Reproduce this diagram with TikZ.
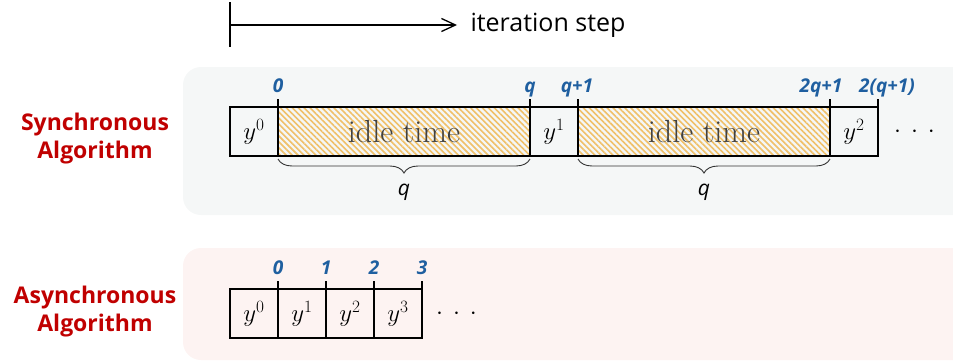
\documentclass[tikz,border=0pt]{standalone}
\usepackage{fontspec}
\setsansfont{Open Sans}
\usepackage{tikz}
\usetikzlibrary{positioning, patterns.meta, decorations.pathreplacing, arrows.meta}
\usepackage{xcolor}

\definecolor{syncbg}{RGB}{245,247,247}
\definecolor{asyncbg}{RGB}{253,243,242}
\definecolor{algred}{RGB}{192,0,0}
\definecolor{stepblue}{RGB}{31,95,160}
\definecolor{hatch}{RGB}{240,192,105}

\begin{document}
\begin{tikzpicture}[x=1pt, y=1pt,
		cell/.style={draw, line width=1.3pt, minimum height=49pt, minimum width=48pt,
			inner sep=0pt, outer sep=0pt, font=\fontsize{24}{24}\selectfont},
		idle/.style={cell, minimum width=252pt,
			pattern={Lines[angle=-45, distance=4.2pt, line width=1.6pt]}, pattern color=hatch,
			text=black!75, font=\fontsize{32}{32}\selectfont},
		step label/.style={above, inner sep=1.5pt, text height=14pt, text depth=4.5pt,
			text=stepblue, font=\sffamily\bfseries\itshape\fontsize{19}{19}\selectfont},
		alg/.style={align=center, text=algred, font=\sffamily\bfseries\fontsize{23}{28}\selectfont},
		panel/.style={rounded corners=18pt},
		gap brace/.style={decorate, decoration={brace, mirror, amplitude=14pt, raise=3pt},
			line width=0.9pt, draw=black!80},
		dots/.style={inner sep=0pt, font=\fontsize{30}{30}\selectfont}
	]
	\useasboundingbox (0,0) rectangle (953,-362);
	
	\fill [syncbg, panel] (183,-67) rectangle (990,-215);
	\fill [asyncbg, panel] (183,-248) rectangle (990,-360);
	
	\coordinate (axis top) at (230,-2);
	\coordinate (axis bottom) at (230,-47);
	\coordinate (O) at (230,-25);
	\draw [line width=1.3pt] (axis top) -- (axis bottom);
	\draw [line width=1.3pt, -{Straight Barb[length=14pt, width=13pt]}] (O) -- ++(227,0) coordinate (axis end);
	\node [right=10pt of axis end, font=\sffamily\fontsize{25}{25}\selectfont] (axis label) {iteration step};
	
	\node [alg] (sync label) at (95,-139) {Synchronous\\Algorithm};
	\node [alg] (async label) at (95,-312) {Asynchronous\\Algorithm};
	
	\node [cell, anchor=north west] (s0) at (230,-107) {$y^0$};
	\node [idle, right=0pt of s0] (w0) {idle time};
	\node [cell, right=0pt of w0] (s1) {$y^1$};
	\node [idle, right=0pt of s1] (w1) {idle time};
	\node [cell, right=0pt of w1] (s2) {$y^2$};
	\node [dots, right=16pt of s2] (sync dots) {$\cdot$\hspace{10pt}$\cdot$\hspace{10pt}$\cdot$};
	
	\foreach \n/\t/\s in {s0/0/0, w0/q/0, s1/{q+1}/-1, w1/{2q+1}/-9, s2/{2(q+1)}/9}
	{
		\draw [line width=1.3pt] (\n.north east) -- ++(0,8) node [step label, xshift=\s pt] {\t};
	}
	
	\foreach \n in {w0, w1}
	{
		\draw [gap brace] (\n.south west) -- (\n.south east)
			node [midway, below=26pt, inner sep=2pt, font=\sffamily\itshape\fontsize{21}{21}\selectfont] {q};
	}
	
	\node [cell, anchor=north west] (a0) at (230,-289) {$y^0$};
	\foreach \i [remember=\i as \j (initially 0)] in {1,2,3}
	{
		\node [cell, right=0pt of a\j] (a\i) {$y^{\i}$};
	}
	\node [dots, right=14pt of a3] (async dots) {$\cdot$\hspace{10pt}$\cdot$\hspace{10pt}$\cdot$};
	
	\foreach \i in {0,...,3}
	{
		\draw [line width=1.3pt] (a\i.north east) -- ++(0,8) node [step label] {\i};
	}
	
\end{tikzpicture}
\end{document}
